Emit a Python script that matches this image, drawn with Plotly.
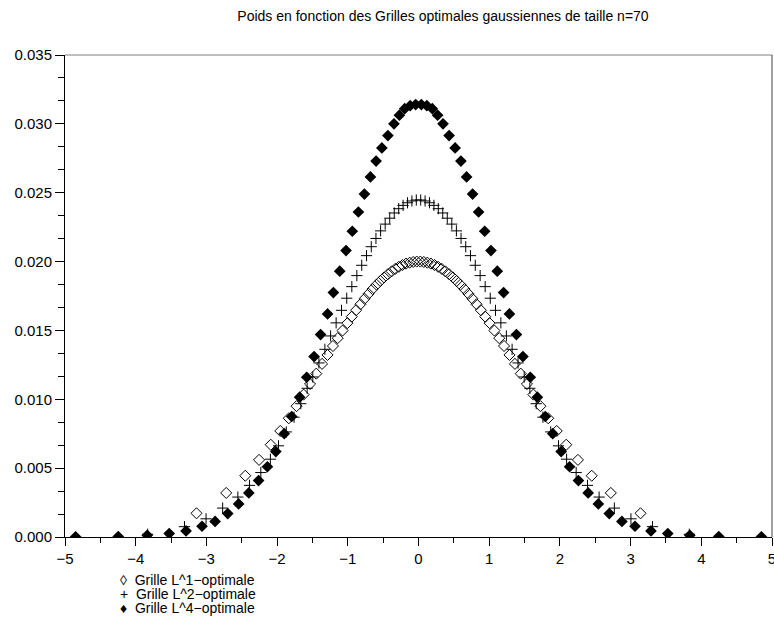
import plotly.graph_objects as go

# Grille L^1-optimale (points, poids)
x_l1 = [-3.140, -2.720, -2.450, -2.255, -2.090, -1.955, -1.835, -1.725, -1.625, -1.534,
        -1.446, -1.364, -1.287, -1.210, -1.142, -1.074, -1.006, -0.944, -0.882, -0.821,
        -0.763, -0.706, -0.650, -0.593, -0.540, -0.487, -0.433, -0.380, -0.329, -0.277,
        -0.226, -0.176, -0.125, -0.075, -0.025,
        0.025, 0.075, 0.125, 0.176, 0.226, 0.277, 0.329, 0.380, 0.433, 0.487,
        0.540, 0.593, 0.650, 0.706, 0.763, 0.821, 0.882, 0.944, 1.006, 1.074,
        1.142, 1.210, 1.287, 1.364, 1.446, 1.534, 1.625, 1.725, 1.835, 1.955,
        2.090, 2.255, 2.450, 2.720, 3.140]
w_l1 = [0.00172, 0.00320, 0.00445, 0.00560, 0.00670, 0.00770, 0.00862, 0.00950, 0.01034, 0.01111,
        0.01186, 0.01257, 0.01322, 0.01387, 0.01444, 0.01499, 0.01553, 0.01600, 0.01647, 0.01690,
        0.01730, 0.01766, 0.01800, 0.01832, 0.01859, 0.01885, 0.01908, 0.01929, 0.01947, 0.01962,
        0.01975, 0.01985, 0.01992, 0.01997, 0.02000,
        0.02000, 0.01997, 0.01992, 0.01985, 0.01975, 0.01962, 0.01947, 0.01929, 0.01908, 0.01885,
        0.01859, 0.01832, 0.01800, 0.01766, 0.01730, 0.01690, 0.01647, 0.01600, 0.01553, 0.01499,
        0.01444, 0.01387, 0.01322, 0.01257, 0.01186, 0.01111, 0.01034, 0.00950, 0.00862, 0.00770,
        0.00670, 0.00560, 0.00445, 0.00320, 0.00172]

# Grille L^2-optimale
x_l2 = [-3.830, -3.310, -3.005, -2.770, -2.555, -2.390, -2.230, -2.095, -1.980, -1.870,
        -1.760, -1.665, -1.575, -1.495, -1.408, -1.324, -1.243, -1.165, -1.089, -1.015,
        -0.943, -0.872, -0.803, -0.735, -0.668, -0.602, -0.536, -0.471, -0.407, -0.343,
        -0.280, -0.218, -0.155, -0.093, -0.031,
        0.031, 0.093, 0.155, 0.218, 0.280, 0.343, 0.407, 0.471, 0.536, 0.602,
        0.668, 0.735, 0.803, 0.872, 0.943, 1.015, 1.089, 1.165, 1.243, 1.324,
        1.408, 1.495, 1.575, 1.665, 1.760, 1.870, 1.980, 2.095, 2.230, 2.390,
        2.555, 2.770, 3.005, 3.310, 3.830]
w_l2 = [0.00020, 0.00075, 0.00132, 0.00210, 0.00290, 0.00375, 0.00468, 0.00565, 0.00662, 0.00763,
        0.00870, 0.00968, 0.01080, 0.01162, 0.01264, 0.01363, 0.01460, 0.01555, 0.01646, 0.01734,
        0.01818, 0.01898, 0.01973, 0.02043, 0.02108, 0.02168, 0.02223, 0.02272, 0.02315, 0.02353,
        0.02384, 0.02408, 0.02427, 0.02440, 0.02447,
        0.02447, 0.02440, 0.02427, 0.02408, 0.02384, 0.02353, 0.02315, 0.02272, 0.02223, 0.02168,
        0.02108, 0.02043, 0.01973, 0.01898, 0.01818, 0.01734, 0.01646, 0.01555, 0.01460, 0.01363,
        0.01264, 0.01162, 0.01080, 0.00968, 0.00870, 0.00763, 0.00662, 0.00565, 0.00468, 0.00375,
        0.00290, 0.00210, 0.00132, 0.00075, 0.00020]

# Grille L^4-optimale
x_l4 = [-4.850, -4.247, -3.837, -3.526, -3.288, -3.062, -2.877, -2.698, -2.544, -2.400,
        -2.262, -2.137, -2.018, -1.899, -1.793, -1.681, -1.581, -1.477, -1.385, -1.286,
        -1.204, -1.114, -1.025, -0.936, -0.850, -0.765, -0.680, -0.600, -0.518, -0.433,
        -0.347, -0.270, -0.195, -0.118, -0.040,
        0.040, 0.118, 0.195, 0.270, 0.347, 0.433, 0.518, 0.600, 0.680, 0.765,
        0.850, 0.936, 1.025, 1.114, 1.204, 1.286, 1.385, 1.477, 1.581, 1.681,
        1.793, 1.899, 2.018, 2.137, 2.262, 2.400, 2.544, 2.698, 2.877, 3.062,
        3.288, 3.526, 3.837, 4.247, 4.850]
w_l4 = [0.00001, 0.00003, 0.00012, 0.00025, 0.00044, 0.00078, 0.00113, 0.00170, 0.00240, 0.00320,
        0.00410, 0.00510, 0.00620, 0.00750, 0.00875, 0.01015, 0.01160, 0.01310, 0.01470, 0.01620,
        0.01775, 0.01930, 0.02080, 0.02220, 0.02360, 0.02490, 0.02615, 0.02730, 0.02825, 0.02915,
        0.03000, 0.03063, 0.03110, 0.03132, 0.03140,
        0.03140, 0.03132, 0.03110, 0.03063, 0.03000, 0.02915, 0.02825, 0.02730, 0.02615, 0.02490,
        0.02360, 0.02220, 0.02080, 0.01930, 0.01775, 0.01620, 0.01470, 0.01310, 0.01160, 0.01015,
        0.00875, 0.00750, 0.00620, 0.00510, 0.00410, 0.00320, 0.00240, 0.00170, 0.00113, 0.00078,
        0.00044, 0.00025, 0.00012, 0.00003, 0.00001]

title_text = "Poids en fonction des Grilles optimales gaussiennes de taille n=70"
legend_labels = ["◊  Grille L^1−optimale", "+  Grille L^2−optimale", "♦  Grille L^4−optimale"]

FONT = "Liberation Sans, Arial, Helvetica, sans-serif"

fig = go.Figure()
fig.add_trace(go.Scatter(x=x_l1, y=w_l1, mode="markers", name=legend_labels[0],
                         marker=dict(symbol="diamond-open", size=8.5, color="black",
                                     line=dict(width=1, color="black"))))
fig.add_trace(go.Scatter(x=x_l2, y=w_l2, mode="markers", name=legend_labels[1],
                         marker=dict(symbol="cross-thin", size=8, color="black",
                                     line=dict(width=1, color="black"))))
fig.add_trace(go.Scatter(x=x_l4, y=w_l4, mode="markers", name=legend_labels[2],
                         marker=dict(symbol="diamond", size=9, color="black",
                                     line=dict(width=0))))

W, H = 774, 623
ml, mr, mt, mb = 65, 2, 55, 86
ph = H - mt - mb
pw = W - ml - mr

fig.update_layout(
    width=W, height=H,
    margin=dict(l=ml, r=mr, t=mt, b=mb, autoexpand=False),
    paper_bgcolor="white", plot_bgcolor="white",
    showlegend=False,
    font=dict(family=FONT, color="black", size=15),
    title=dict(text=title_text, x=443 / W, xref="container", xanchor="center",
               y=1 - 16 / H, yref="container", yanchor="middle",
               font=dict(family=FONT, size=14, color="black")),
    xaxis=dict(range=[-5, 5], dtick=1, tick0=0, showgrid=False, zeroline=False,
               automargin=False, ticklabeloverflow="allow",
               showline=True, linecolor="black", linewidth=1,
               ticks="outside", ticklen=8, tickcolor="black", tickwidth=1,
               minor=dict(dtick=0.5, ticklen=5, tickcolor="black", ticks="outside"),
               tickfont=dict(size=15)),
    yaxis=dict(range=[0, 0.035], dtick=0.005, tick0=0, tickformat=".3f",
               showgrid=False, zeroline=False, automargin=False,
               showline=True, linecolor="black", linewidth=1,
               ticks="outside", ticklen=9, tickcolor="black", tickwidth=1,
               minor=dict(dtick=0.005 / 3, ticklen=6, tickcolor="black", ticks="outside"),
               tickfont=dict(size=15)),
)

# frame top (grey) and right
fig.add_shape(type="line", xref="paper", yref="paper", x0=0, x1=1, y0=1, y1=1,
              line=dict(color="#808080", width=1))
fig.add_shape(type="line", xref="paper", yref="paper", x0=1, x1=1, y0=0, y1=1,
              line=dict(color="#404040", width=1))

# legend below the axes, drawn as text lines
row_px = [580, 594, 608]
for lab, py in zip(legend_labels, row_px):
    fig.add_annotation(text=lab, xref="paper", yref="paper",
                       x=(118 - ml) / pw, y=-(py - (mt + ph)) / ph,
                       xanchor="left", yanchor="middle", showarrow=False,
                       font=dict(family=FONT, size=14, color="black"))

fig.write_html("out.html",
               config={"displayModeBar": False},
               post_script="document.body.style.margin='0';document.body.style.padding='0';"
                           "document.body.style.overflow='hidden';")
